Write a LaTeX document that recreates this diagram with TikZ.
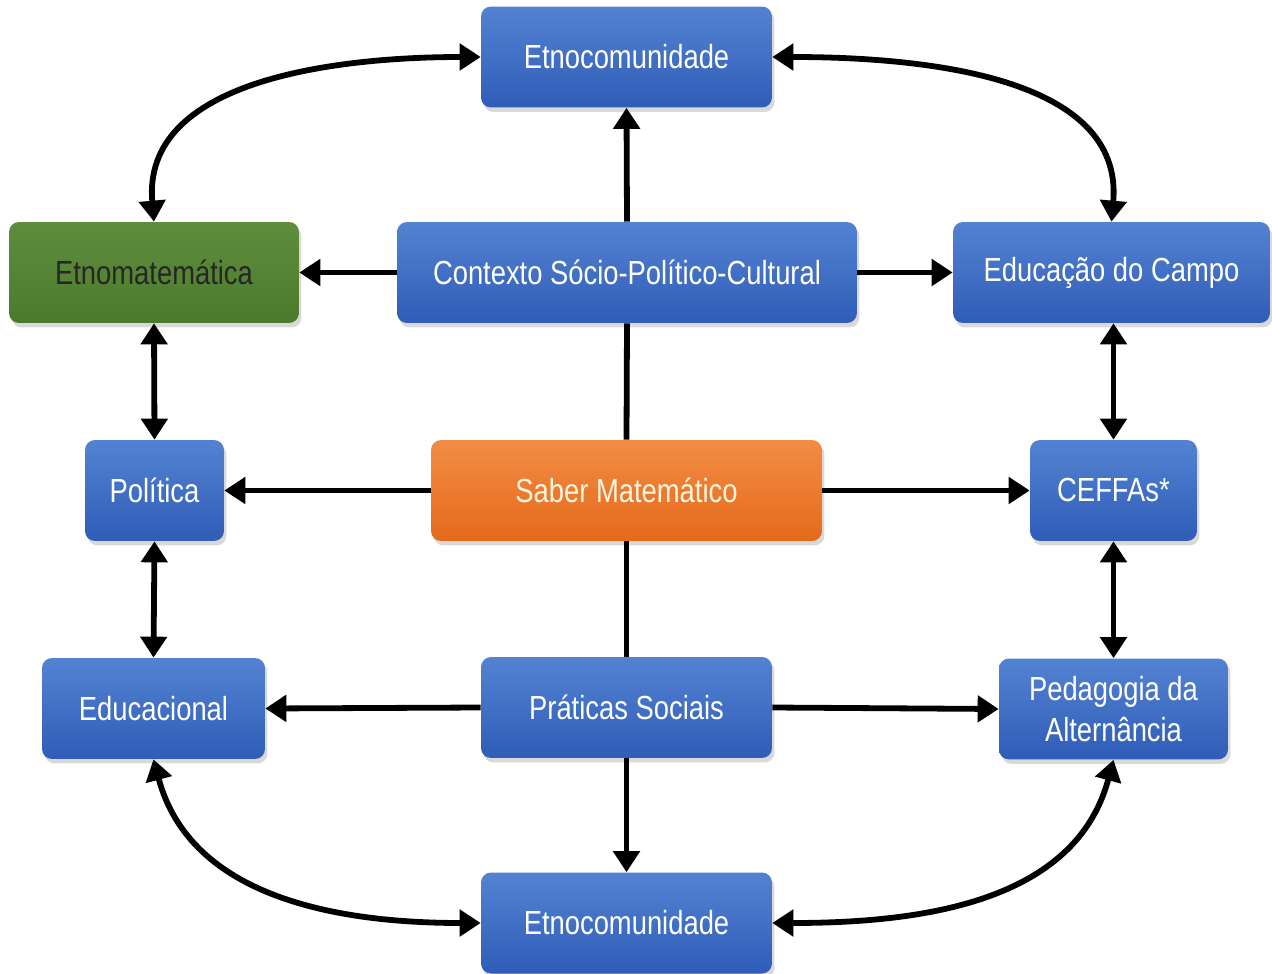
\documentclass[tikz,border=0pt]{standalone}
\usepackage{fontspec}
\setmainfont{Liberation Sans}[FakeStretch=0.82]
\usetikzlibrary{arrows.meta,shadows}
\definecolor{bluetop}{HTML}{5482D2}
\definecolor{bluebot}{HTML}{2F5DB7}
\definecolor{greentop}{HTML}{5E8E3C}
\definecolor{greenbot}{HTML}{4B7A2C}
\definecolor{orangetop}{HTML}{F28C45}
\definecolor{orangebot}{HTML}{E56A1B}
\definecolor{creamtxt}{HTML}{FFF6E0}
\tikzset{
  box/.style={rounded corners=0.2cm, minimum height=2.02cm, inner sep=0pt, align=center,
    font=\fontsize{19}{22}\selectfont, text=white,
    top color=bluetop, bottom color=bluebot, draw=none,
    drop shadow={opacity=0.3, shadow xshift=0.05cm, shadow yshift=-0.09cm}},
  greenbox/.style={box, top color=greentop, bottom color=greenbot, text=black!85},
  orangebox/.style={box, top color=orangetop, bottom color=orangebot, text=creamtxt},
  conn/.style={line width=3.3pt, black},
  arr/.style={conn, -{Triangle[length=0.42cm,width=0.52cm]}},
  darr/.style={conn, {Triangle[length=0.42cm,width=0.52cm]}-{Triangle[length=0.42cm,width=0.52cm]}}
}
\begin{document}
\begin{tikzpicture}[x=0.02cm,y=-0.02cm]
\useasboundingbox (0,0) rectangle (1272,974);
\node[box, minimum width=5.82cm] (etnoT) at (626.5,57) {Etnocomunidade};
\node[greenbox, minimum width=5.8cm] (etnomat) at (154,272.5) {Etnomatemática};
\node[box, minimum width=9.2cm] (ctx) at (627,272.5) {Contexto Sócio-Político-Cultural};
\node[box, minimum width=6.34cm] (educampo) at (1111.5,272.5) {Educação do Campo};
\node[box, minimum width=2.78cm] (pol) at (154.5,490.5) {Política};
\node[orangebox, minimum width=7.82cm] (saber) at (626.5,490.5) {Saber Matemático};
\node[box, minimum width=3.34cm] (ceffas) at (1113.5,490.5) {CEFFAs*};
\node[box, minimum width=4.46cm] (educ) at (153.5,708.5) {Educacional};
\node[box, minimum width=5.82cm] (prat) at (626.5,707.5) {Práticas Sociais};
\node[box, minimum width=4.58cm, font=\fontsize{19}{23}\selectfont] (ped) at (1113.5,709) {Pedagogia da\\Alternância};
\node[box, minimum width=5.82cm] (etnoB) at (626.5,923) {Etnocomunidade};

% straight connectors
\draw[arr] (ctx.north) -- (etnoT.south);
\draw[arr] (ctx.west) -- (etnomat.east);
\draw[arr] (ctx.east) -- (educampo.west);
\draw[conn] (ctx.south) -- (saber.north);
\draw[arr] (saber.west) -- (pol.east);
\draw[arr] (saber.east) -- (ceffas.west);
\draw[conn] (saber.south) -- (prat.north);
\draw[arr] (prat.west) -- (educ.east);
\draw[arr] (prat.east) -- (ped.west);
\draw[arr] (prat.south) -- (etnoB.north);
\draw[darr] (etnomat.south) -- (pol.north);
\draw[darr] (pol.south) -- (educ.north);
\draw[darr] (educampo.south -| ceffas.north) -- (ceffas.north);
\draw[darr] (ceffas.south) -- (ped.north);

% curved connectors
\draw[darr] (etnoT.west) to[out=180,in=95] (etnomat.north);
\draw[darr] (etnoT.east) to[out=0,in=85] (educampo.north);
\draw[darr] (educ.south) to[out=-75,in=180] (etnoB.west);
\draw[darr] (ped.south) to[out=-105,in=0] (etnoB.east);
\end{tikzpicture}
\end{document}
